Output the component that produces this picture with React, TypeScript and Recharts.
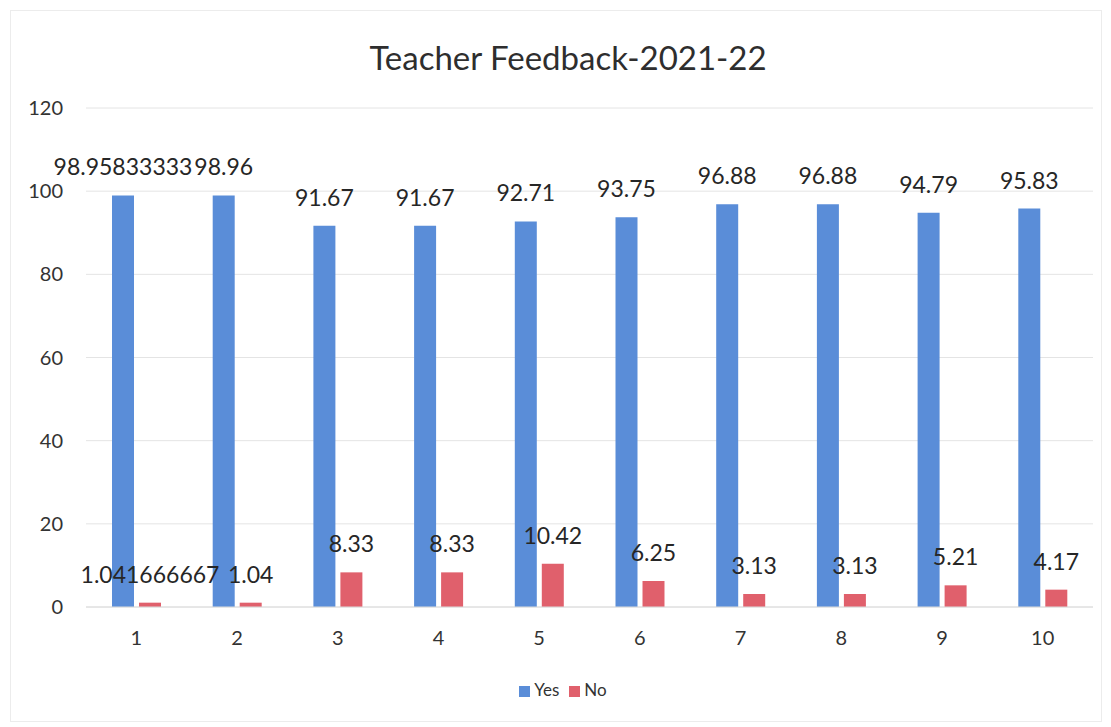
import React from "react";
import { BarChart, Bar, XAxis, YAxis, CartesianGrid, Legend, LabelList } from "recharts";

const categories = ["1", "2", "3", "4", "5", "6", "7", "8", "9", "10"];
const yesValues = [98.95833333, 98.96, 91.67, 91.67, 92.71, 93.75, 96.88, 96.88, 94.79, 95.83];
const noValues = [1.041666667, 1.04, 8.33, 8.33, 10.42, 6.25, 3.13, 3.13, 5.21, 4.17];
const yTicks = [0, 20, 40, 60, 80, 100, 120];
const seriesOrder = ["Yes", "No"];

const data = categories.map((c, i) => ({ name: c, Yes: yesValues[i], No: noValues[i] }));

const FONT = "Lato, 'Open Sans', sans-serif";
const BLUE = "#5A8DD8";
const RED = "#E0606C";
const LABEL_FONT = 23;

const TopLabel = (props: any) => {
  const { x, y, width, value } = props;
  return (
    <text
      x={x + width / 2}
      y={y - 20}
      textAnchor="middle"
      fill="#262626"
      fontSize={LABEL_FONT}
      fontFamily={FONT}
    >
      {String(value)}
    </text>
  );
};

export default function App() {
  return (
    <div style={{ position: "relative", width: 1095, height: 716, fontFamily: FONT, background: "#fff" }}>
      <div
        style={{
          position: "absolute",
          left: 2,
          top: 2,
          width: 1092,
          height: 712,
          border: "1px solid #ececec",
          boxSizing: "border-box",
          pointerEvents: "none",
        }}
      />
      <div
        style={{
          position: "absolute",
          left: 0,
          width: 1120,
          top: 29,
          textAlign: "center",
          fontSize: 33,
          color: "#2e2e2e",
          lineHeight: "40px",
        }}
      >
        Teacher Feedback-2021-22
      </div>
      <BarChart
        width={1095}
        height={716}
        data={data}
        margin={{ top: 100, right: 10, bottom: 0, left: 0 }}
        barSize={22}
        barGap={5}
        style={{ position: "absolute", left: 0, top: 0 }}
      >
        <CartesianGrid vertical={false} stroke="#e4e4e4" />
        <XAxis
          dataKey="name"
          axisLine={{ stroke: "#dcdcdc" }}
          tickLine={false}
          tickSize={0}
          tickMargin={24}
          height={96}
          tick={{ fill: "#333333", fontSize: 20, fontFamily: FONT }}
        />
        <YAxis
          domain={[0, 120]}
          ticks={yTicks}
          axisLine={false}
          tickLine={false}
          tickSize={0}
          tickMargin={23}
          width={78}
          tick={{ fill: "#333333", fontSize: 20, fontFamily: FONT }}
        />
        <Legend
          verticalAlign="bottom"
          iconType="square"
          iconSize={11}
          itemSorter={(item: any) => seriesOrder.indexOf(String(item.value))}
          wrapperStyle={{ bottom: 24, left: 0, width: 1120, fontSize: 17, fontFamily: FONT, color: "#333" }}
          formatter={(v: string) => <span style={{ color: "#333333" }}>{v}</span>}
        />
        <Bar dataKey="Yes" fill={BLUE} isAnimationActive={false}>
          <LabelList dataKey="Yes" content={TopLabel} />
        </Bar>
        <Bar dataKey="No" fill={RED} isAnimationActive={false}>
          <LabelList dataKey="No" content={TopLabel} />
        </Bar>
      </BarChart>
    </div>
  );
}
